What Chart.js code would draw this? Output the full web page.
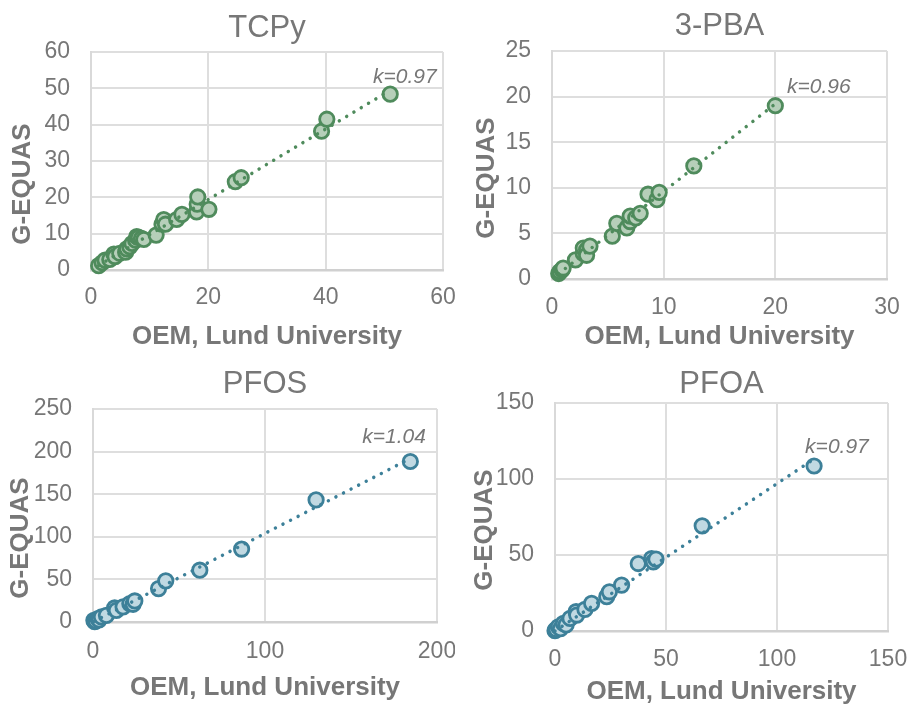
<!DOCTYPE html>
<html><head><meta charset="utf-8">
<script src="https://cdn.jsdelivr.net/npm/chart.js@4"></script>
<style>
html,body{margin:0;padding:0;background:#fff;overflow:hidden;width:911px;height:704px;}
canvas{position:absolute;}
</style></head><body>
<canvas id="c1" style="left:0;top:0" width="455" height="352"></canvas>
<canvas id="c2" style="left:455px;top:0" width="456" height="352"></canvas>
<canvas id="c3" style="left:0;top:352px" width="455" height="352"></canvas>
<canvas id="c4" style="left:455px;top:352px" width="456" height="352"></canvas>
<script>
// ---- data ----
const titles = ['TCPy', '3-PBA', 'PFOS', 'PFOA'];
const xAxisTitle = 'OEM, Lund University';
const yAxisTitle = 'G-EQUAS';
const kValues = [0.97, 0.96, 1.04, 0.97];

const tcpyX = [1.3, 1.9, 2.4, 3.2, 3.9, 4.1, 4.9, 5.9, 6.1, 6.6, 7.0, 7.6, 7.8, 8.1, 8.6, 9.0, 11.1, 12.1, 12.4, 12.7, 14.6, 15.5, 18.0, 18.1, 18.2, 20.1, 24.6, 25.6, 39.3, 40.2, 51.0];
const tcpyY = [1.2, 2.0, 2.7, 2.9, 4.4, 3.7, 4.6, 4.9, 5.8, 6.4, 7.3, 8.2, 9.2, 9.0, 8.7, 8.4, 9.6, 12.6, 13.9, 12.6, 13.9, 15.3, 16.0, 18.1, 20.1, 16.7, 24.3, 25.4, 38.2, 41.5, 48.4];

const pbaX = [0.6, 0.7, 0.9, 1.0, 2.1, 2.8, 2.8, 3.1, 3.1, 3.4, 5.4, 5.8, 6.7, 7.0, 7.0, 7.5, 7.9, 8.6, 9.4, 9.6, 12.7, 20.0];
const pbaY = [0.6, 0.8, 1.0, 1.2, 2.1, 2.8, 3.4, 3.2, 2.6, 3.6, 4.7, 6.1, 5.6, 6.3, 6.9, 6.7, 7.2, 9.3, 8.7, 9.5, 12.4, 19.0];

const pfosX = [0.5, 1.0, 1.6, 2.9, 3.5, 4.9, 7.8, 12.6, 13.6, 17.5, 21.4, 23.3, 24.3, 38.1, 42.3, 62.1, 86.4, 129.7, 184.5];
const pfosY = [2.0, 0.5, 1.2, 3.9, 2.5, 5.9, 7.8, 16.5, 13.7, 17.7, 21.6, 20.8, 24.7, 39.2, 48.3, 60.8, 85.6, 143.3, 188.4];

const pfoaX = [0.0, 0.5, 1.5, 2.5, 3.8, 5.0, 6.8, 9.5, 9.8, 13.5, 16.5, 23.3, 24.5, 30.0, 37.5, 43.5, 44.3, 45.5, 66.3, 116.7];
const pfoaY = [0.2, 1.1, 2.8, 1.5, 5.0, 4.0, 8.3, 12.7, 10.5, 14.2, 18.2, 22.6, 25.8, 30.2, 44.4, 47.7, 45.5, 47.3, 69.2, 108.6];

const xMax = [60, 30, 200, 150];
const xStep = [20, 10, 100, 50];
const yMax = [60, 25, 250, 150];
const yStep = [10, 5, 50, 50];
// position of the k= label, in data units of each panel
const kLabelAt = [[53.5, 53.1], [23.9, 21.05], [175, 217], [127, 121]];

// ---- styling ----
const FONT = "'Liberation Sans', Arial, sans-serif";
const GRAY = '#777777';
const GREEN = {line: '#4f8b5c', fill: '#b6cfb9'};
const BLUE = {line: '#3d8099', fill: '#c1d9e2'};
Chart.defaults.font.family = FONT;

const extraText = {
  id: 'extraText',
  afterDraw(chart, args, o) {
    const ctx = chart.ctx;
    ctx.save();
    ctx.font = 'bold 26px ' + FONT;
    ctx.fillStyle = GRAY;
    ctx.textAlign = 'center';
    ctx.textBaseline = 'middle';
    ctx.translate(o.yTitleX, o.yTitleY);
    ctx.rotate(-Math.PI / 2);
    ctx.fillText(o.yTitle, 0, 0);
    ctx.restore();
    ctx.save();
    ctx.font = 'italic 21px ' + FONT;
    ctx.fillStyle = GRAY;
    ctx.textAlign = 'center';
    ctx.textBaseline = 'middle';
    const px = chart.scales.x.getPixelForValue(o.kAt[0]);
    const py = chart.scales.y.getPixelForValue(o.kAt[1]);
    ctx.fillText('k=' + o.k.toFixed(2), px, py);
    ctx.restore();
  }
};

function makeChart(id, i, xs, ys, col, L) {
  const pts = xs.map((x, j) => ({x: x, y: ys[j]}));
  const x0 = Math.min(...xs), x1 = Math.max(...xs);
  const k = kValues[i];
  new Chart(document.getElementById(id), {
    type: 'scatter',
    data: {datasets: [
      {data: [{x: x0, y: k * x0}, {x: x1, y: k * x1}], showLine: true, borderColor: col.line,
       borderWidth: 3.5, borderDash: [0.01, 8.5], borderCapStyle: 'round', pointRadius: 0, order: 0, clip: false},
      {data: pts, backgroundColor: col.fill, borderColor: col.line, borderWidth: 2.8,
       pointRadius: 7.2, pointHoverRadius: 7.2, order: 1, clip: false}
    ]},
    options: {
      responsive: false, animation: false, devicePixelRatio: 1,
      events: [],
      layout: {padding: {left: 0, top: 0, right: L.right, bottom: 0}},
      plugins: {
        legend: {display: false}, tooltip: {enabled: false},
        title: {display: true, text: titles[i], fullSize: false, color: GRAY,
                font: {size: 31, weight: 'normal'}, padding: {top: L.tpt, bottom: L.tpb}},
        extraText: {yTitle: yAxisTitle, yTitleX: L.ytx, yTitleY: L.yty, k: k, kAt: kLabelAt[i]}
      },
      scales: {
        x: {type: 'linear', min: 0, max: xMax[i],
            ticks: {stepSize: xStep[i], padding: L.xpad, color: GRAY, font: {size: 23}, autoSkip: false, maxRotation: 0},
            grid: {color: '#dedede', lineWidth: 2, drawTicks: false},
            border: {color: '#d0d0d0', width: 2.5},
            title: {display: true, text: xAxisTitle, color: GRAY, font: {size: 26, weight: 'bold'},
                    padding: {top: 0, bottom: L.xtb}},
            afterFit(s) { s.height = L.xh; s.paddingLeft = 0; s.paddingRight = 0; s.paddingTop = 0; s.paddingBottom = 0; }
        },
        y: {type: 'linear', min: 0, max: yMax[i],
            ticks: {stepSize: yStep[i], padding: 21, color: GRAY, font: {size: 23}, autoSkip: false},
            grid: {color: '#dedede', lineWidth: 2, drawTicks: false},
            border: {color: '#d9d9d9', width: 2},
            afterFit(s) { s.width = L.yw; s.paddingLeft = 0; s.paddingRight = 0; s.paddingTop = 0; s.paddingBottom = 0; }
        }
      }
    },
    plugins: [extraText]
  });
}

makeChart('c1', 0, tcpyX, tcpyY, GREEN, {right: 12, tpt: 9.4, tpb: 5.4, ytx: 23, yty: 184, xpad: 14, xtb: -0.6, xh: 82, yw: 91});
makeChart('c2', 1, pbaX, pbaY, GREEN, {right: 24, tpt: 7.7, tpb: 6.1, ytx: 32, yty: 178, xpad: 15, xtb: -0.6, xh: 73, yw: 97});
makeChart('c3', 2, pfosX, pfosY, BLUE, {right: 18, tpt: 13.9, tpb: 5.9, ytx: 21, yty: 186, xpad: 16, xtb: 0.4, xh: 82, yw: 93});
makeChart('c4', 3, pfoaX, pfoaY, BLUE, {right: 23, tpt: 13.9, tpb: 0, ytx: 30, yty: 178, xpad: 15, xtb: -3.6, xh: 73, yw: 100});
</script>
</body></html>
